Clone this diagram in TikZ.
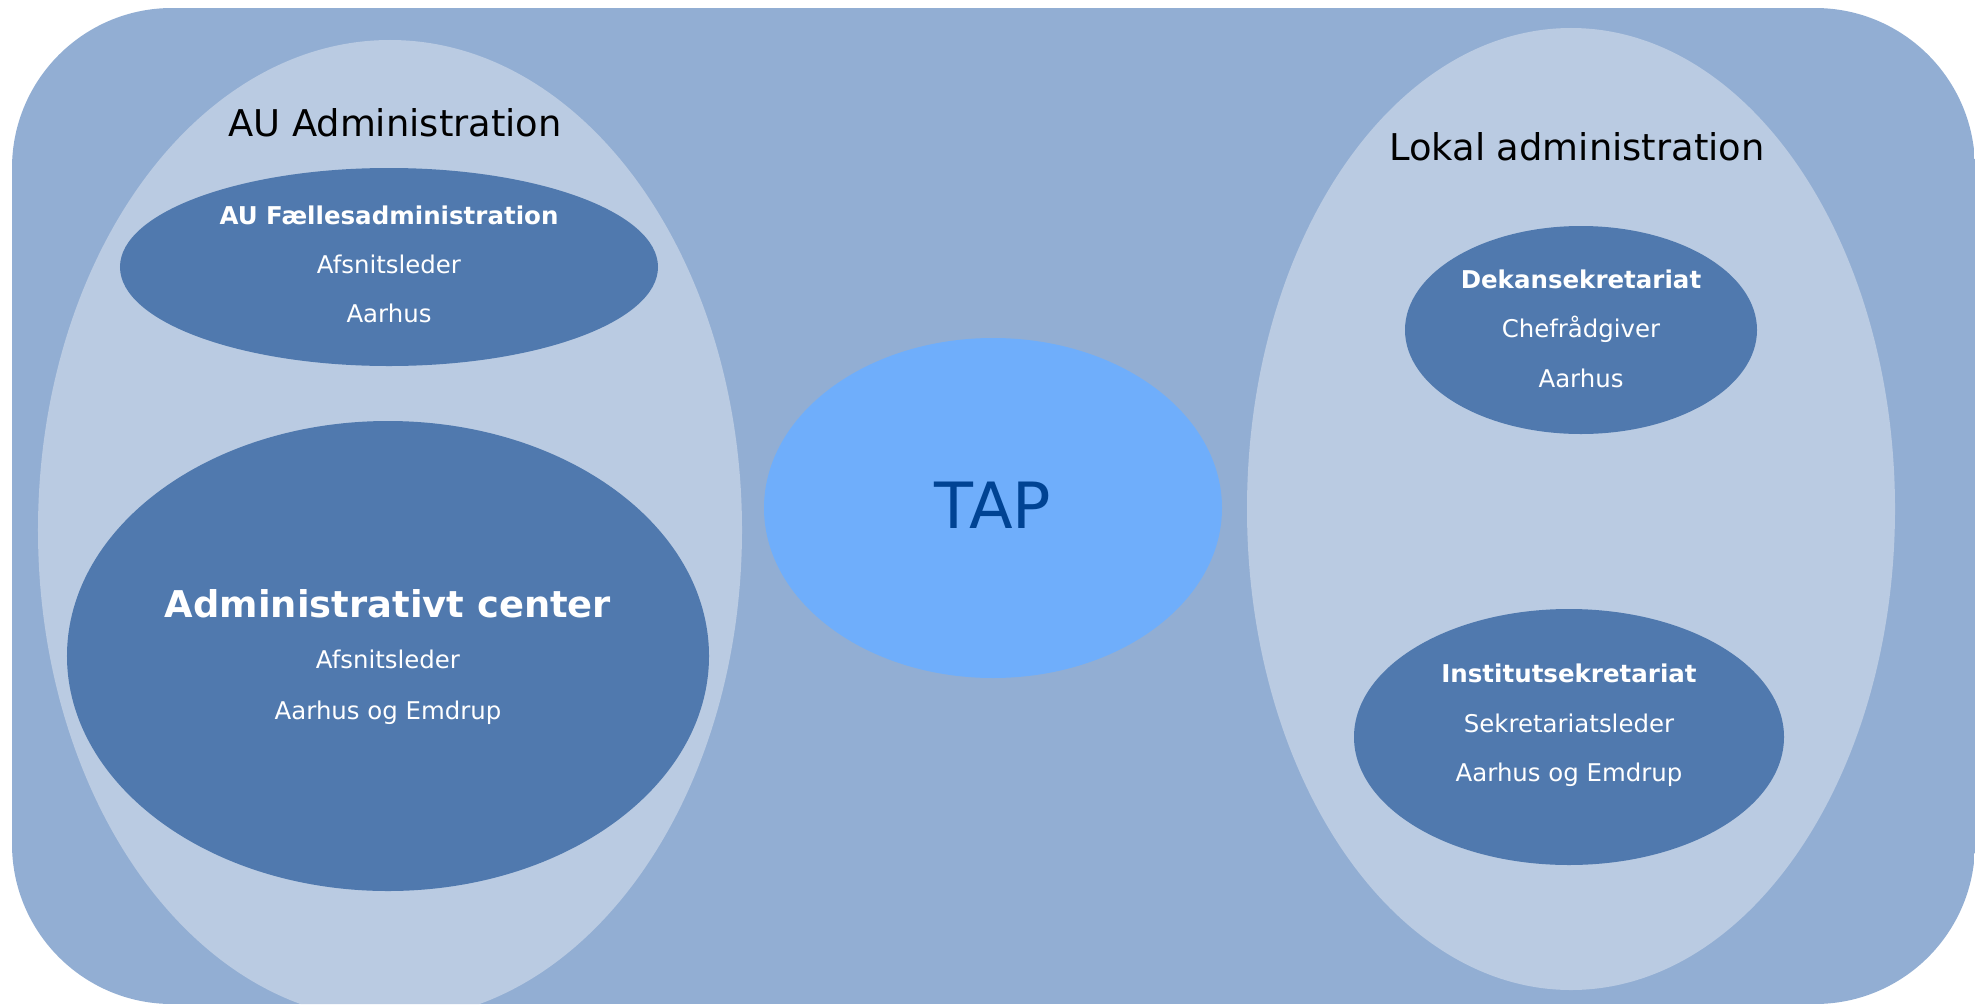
\documentclass[tikz,border=0pt]{standalone}
\usepackage{fontspec}
\setmainfont{DejaVu Sans}
\usetikzlibrary{shapes.geometric}
\definecolor{bgblue}{HTML}{92AED3}
\definecolor{lightblue}{HTML}{BACBE2}
\definecolor{darkblue}{HTML}{5079AE}
\definecolor{tapblue}{HTML}{6FAEFB}
\definecolor{taptext}{HTML}{004393}
\tikzset{
  ell/.style={ellipse, inner sep=0pt, draw=none},
  lightell/.style={ell, fill=lightblue},
  darkell/.style={ell, fill=darkblue},
  head/.style={anchor=base, font=\fontsize{37}{40}\selectfont, text=black, inner sep=0pt},
  title/.style={anchor=base, font=\fontsize{24.6}{28}\selectfont\bfseries, text=white, inner sep=0pt},
  bigtitle/.style={anchor=base, font=\fontsize{37}{40}\selectfont\bfseries, text=white, inner sep=0pt},
  line/.style={anchor=base, font=\fontsize{24.5}{28}\selectfont, text=white, inner sep=0pt},
}
\begin{document}
\begin{tikzpicture}[x=1bp, y=-1bp]
\useasboundingbox (0,0) rectangle (1981,1005);
\begin{scope}
\clip[rounded corners=160bp] (12,8) rectangle (1975,1004);
\fill[bgblue] (12,8) rectangle (1975,1004);
% large light ellipses
\node[lightell, minimum width=704bp, minimum height=980bp] (auadm) at (390,530) {};
\node[lightell, minimum width=648bp, minimum height=962bp] (lokadm) at (1571,509) {};
\end{scope}
% dark ellipses
\node[darkell, minimum width=538bp, minimum height=198bp] (faelles) at (389,267) {};
\node[darkell, minimum width=642bp, minimum height=470bp] (center) at (388,656) {};
\node[darkell, minimum width=352bp, minimum height=208bp] (dekan) at (1581,330) {};
\node[darkell, minimum width=430bp, minimum height=256bp] (institut) at (1569,737) {};
% TAP
\node[ell, fill=tapblue, minimum width=458bp, minimum height=340bp] (tap) at (993,508) {};
\node[anchor=base, font=\fontsize{64}{70}\selectfont, text=taptext, inner sep=0pt] (taplbl) at (993,528) {TAP};
% headings
\node[head] (auhead) at (395,136) {AU Administration};
\node[head] (lokhead) at (1577,160) {Lokal administration};
% AU Faellesadministration
\node[title] (f1) at (389,224) {AU Fællesadministration};
\node[line] (f2) at (389,273) {Afsnitsleder};
\node[line] (f3) at (389,322) {Aarhus};
% Administrativt center
\node[bigtitle] (c1) at (388,617) {Administrativt center};
\node[line] (c2) at (388,668) {Afsnitsleder};
\node[line] (c3) at (388,719) {Aarhus og Emdrup};
% Dekansekretariat
\node[title] (d1) at (1581,288) {Dekansekretariat};
\node[line] (d2) at (1581,337) {Chefrådgiver};
\node[line] (d3) at (1581,387) {Aarhus};
% Institutsekretariat
\node[title] (i1) at (1569,682) {Institutsekretariat};
\node[line] (i2) at (1569,732) {Sekretariatsleder};
\node[line] (i3) at (1569,781) {Aarhus og Emdrup};
\end{tikzpicture}
\end{document}
